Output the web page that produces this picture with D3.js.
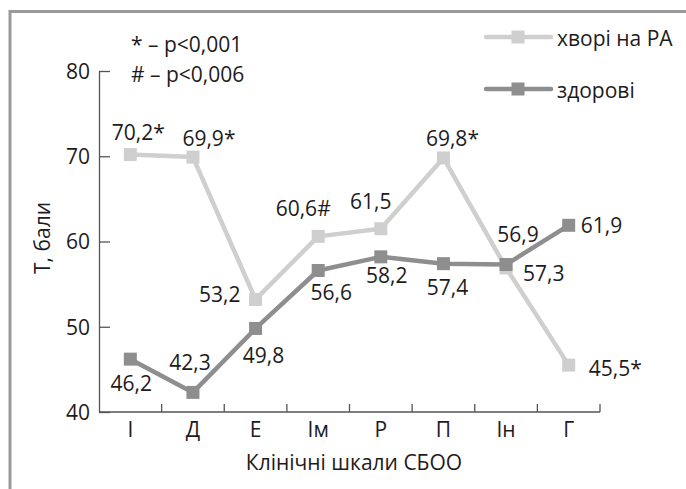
<!DOCTYPE html>
<html>
<head>
<meta charset="utf-8">
<script src="https://cdn.jsdelivr.net/npm/d3@7/dist/d3.min.js"></script>
<style>
  html, body { margin: 0; padding: 0; background: #fff; }
  svg { display: block; }
  text { font-family: "Open Sans", "Noto Sans", sans-serif; fill: #1e1b1c; font-weight: 500; }
</style>
</head>
<body>
<svg id="chart" width="686" height="489"></svg>
<script>
// Clinical scales of the questionnaire
const categories = ["І", "Д", "Е", "Ім", "Р", "П", "Ін", "Г"];

// T-scores per scale
const patientsRA = [70.2, 69.9, 53.2, 60.6, 61.5, 69.8, 56.9, 45.5];
const healthy    = [46.2, 42.3, 49.8, 56.6, 58.2, 57.4, 57.3, 61.9];

// Significance marks appended to the value labels
const patientsMarks = ["*", "*", "", "#", "", "*", "", "*"];
const healthyMarks  = ["", "", "", "", "", "", "", ""];

const yTicks = [40, 50, 60, 70, 80];
const seriesNames = ["хворі на РА", "здорові"];
const notes = ["* – p<0,001", "# – p<0,006"];

// Label placement around each marker: [dx, dy, anchor]
const patientsLabelPos = [
  [8, -15, "middle"], [16, -11, "middle"], [-15, 3, "end"], [-15, -20, "middle"],
  [-10, -20, "middle"], [9, -12, "middle"], [12, -26, "middle"], [20, 11, "start"]
];
const healthyLabelPos = [
  [1, 32, "middle"], [-3, -22, "middle"], [8, 35, "middle"], [13, 30, "middle"],
  [6, 26, "middle"], [4, 31, "middle"], [17, 16, "start"], [12, 8, "start"]
];

const fontSize = 21;
const svg = d3.select("#chart");
const colors = { patients: "#cfcfcf", healthy: "#8e8e8e" };

// Outer frame (open to the right and bottom)
svg.append("path")
  .attr("d", "M10,500 L10,11.5 L700,11.5")
  .attr("fill", "none")
  .attr("stroke", "#9a9a9a")
  .attr("stroke-width", 3);

const plot = { left: 99, right: 600, top: 71, bottom: 412 };

const x = d3.scaleBand().domain(categories).range([plot.left, plot.right]);
const y = d3.scaleLinear().domain([40, 80]).range([plot.bottom, plot.top]);
const cx = c => x(c) + x.bandwidth() / 2;

// Y axis with inward ticks
const yAxis = svg.append("g")
  .attr("transform", `translate(${plot.left},0)`)
  .call(d3.axisLeft(y).tickValues(yTicks).tickSizeInner(-11).tickSizeOuter(0).tickPadding(9));
yAxis.select(".domain").attr("stroke", "#555").attr("stroke-width", 1.3);
yAxis.selectAll(".tick line").attr("stroke", "#555").attr("stroke-width", 1.3);
yAxis.selectAll(".tick text")
  .attr("font-size", fontSize).attr("font-family", null).attr("fill", null)
  .attr("dy", "0.35em");

// X axis: line with inward ticks at the category boundaries
const xAxis = svg.append("g").attr("transform", `translate(0,${plot.bottom})`);
xAxis.append("line")
  .attr("x1", plot.left).attr("x2", plot.right)
  .attr("stroke", "#555").attr("stroke-width", 1.3);
xAxis.selectAll("line.tick")
  .data(categories.slice(1).concat([null]))
  .join("line")
  .attr("class", "tick")
  .attr("x1", d => d === null ? plot.right : x(d))
  .attr("x2", d => d === null ? plot.right : x(d))
  .attr("y1", 0).attr("y2", -8)
  .attr("stroke", "#555").attr("stroke-width", 1.3);
xAxis.selectAll("text.cat")
  .data(categories)
  .join("text")
  .attr("class", "cat")
  .attr("x", d => cx(d))
  .attr("y", 25)
  .attr("text-anchor", "middle")
  .attr("font-size", fontSize)
  .text(d => d);

// Axis titles
svg.append("text")
  .attr("x", 354).attr("y", 470)
  .attr("text-anchor", "middle")
  .attr("font-size", fontSize)
  .text("Клінічні шкали СБОО");
svg.append("text")
  .attr("transform", "translate(50,238) rotate(-90)")
  .attr("text-anchor", "middle")
  .attr("font-size", fontSize)
  .text("Т, бали");

// Significance notes
svg.selectAll("text.note")
  .data(notes)
  .join("text")
  .attr("class", "note")
  .attr("x", 131)
  .attr("y", (d, i) => 52 + i * 30)
  .attr("font-size", fontSize)
  .text(d => d);

const line = d3.line().x(d => cx(d.c)).y(d => y(d.v));
const markerSize = 13;

function drawSeries(values, marks, labelPos, color) {
  const pts = values.map((v, i) => ({ c: categories[i], v, m: marks[i], p: labelPos[i] }));
  const g = svg.append("g");
  g.append("path")
    .datum(pts)
    .attr("d", line)
    .attr("fill", "none")
    .attr("stroke", color)
    .attr("stroke-width", 4.5)
    .attr("stroke-linejoin", "round");
  g.selectAll("rect")
    .data(pts)
    .join("rect")
    .attr("x", d => cx(d.c) - markerSize / 2)
    .attr("y", d => y(d.v) - markerSize / 2)
    .attr("width", markerSize)
    .attr("height", markerSize)
    .attr("fill", color);
  return pts;
}

function drawLabels(pts) {
  svg.append("g").selectAll("text")
    .data(pts)
    .join("text")
    .attr("x", d => cx(d.c) + d.p[0])
    .attr("y", d => y(d.v) + d.p[1])
    .attr("text-anchor", d => d.p[2])
    .attr("font-size", fontSize)
    .text(d => d3.format(".1f")(d.v).replace(".", ",") + d.m);
}

const pPts = drawSeries(patientsRA, patientsMarks, patientsLabelPos, colors.patients);
const hPts = drawSeries(healthy, healthyMarks, healthyLabelPos, colors.healthy);
drawLabels(pPts);
drawLabels(hPts);

// Legend
const legend = svg.append("g");
[colors.patients, colors.healthy].forEach((c, i) => {
  const ly = 37 + i * 52;
  legend.append("line")
    .attr("x1", 486).attr("x2", 551).attr("y1", ly).attr("y2", ly)
    .attr("stroke", c).attr("stroke-width", 4.5).attr("stroke-linecap", "round");
  legend.append("rect")
    .attr("x", 518 - markerSize / 2).attr("y", ly - markerSize / 2)
    .attr("width", markerSize).attr("height", markerSize)
    .attr("fill", c);
  legend.append("text")
    .attr("x", 557).attr("y", ly + 9)
    .attr("font-size", fontSize)
    .text(seriesNames[i]);
});
</script>
</body>
</html>
